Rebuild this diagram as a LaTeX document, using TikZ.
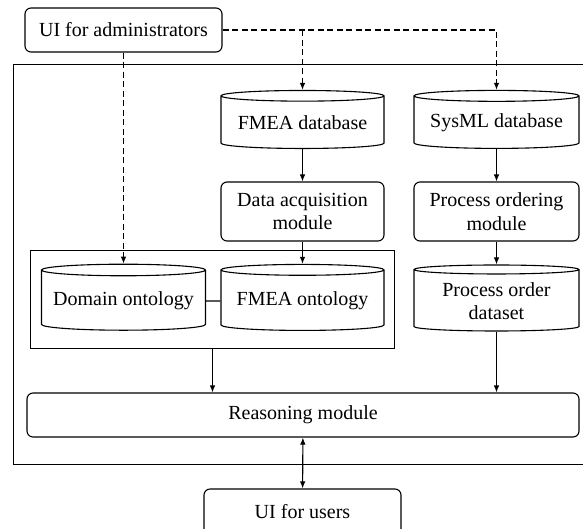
\documentclass[tikz,border=0pt]{standalone}
\usepackage{fontspec}
\setmainfont{Liberation Serif}
\usetikzlibrary{shapes.geometric,arrows.meta}

\begin{document}
\begin{tikzpicture}[x=1pt, y=-1pt, line width=1.1pt,
box/.style = {draw, rounded corners=6pt, align=center, inner sep=2pt},
db/.style = {draw, cylinder, shape border rotate=90, aspect=0.08, align=center, inner sep=2pt},
arr/.style = {-{Latex[length=7pt,width=5.5pt]}},
adm/.style = {arr, dash pattern=on 6pt off 3.5pt},
font = \fontsize{20}{23.5}\selectfont
]
\clip (0,0) rectangle (583,528);
\node[draw, minimum width=600, minimum height=400, anchor=north west] (sys) at (12.5,63.5) {};
\node[box, minimum width=197, minimum height=44] (admin) at (123.5,30) {UI for administrators};
\node[db, minimum width=163, minimum height=58] (fmeadb) at (302.5,123) {FMEA database};
\node[db, minimum width=165, minimum height=58] (sysmldb) at (496.5,123) {SysML database};
\node[box, minimum width=163, minimum height=59] (acq) at (302.5,211.5) {Data acquisition\\module};
\node[box, minimum width=165, minimum height=59] (order) at (496.5,211.5) {Process ordering\\module};
\node[draw, minimum width=364, minimum height=98] (onto) at (212.5,299.5) {};
\node[db, minimum width=164, minimum height=66] (domain) at (123.5,301) {Domain ontology};
\node[db, minimum width=163, minimum height=66] (fmeaont) at (302.5,301) {FMEA ontology};
\node[db, minimum width=165, minimum height=66] (dataset) at (496.5,301) {Process order\\dataset};
\node[box, minimum width=552, minimum height=44] (reason) at (303,415) {Reasoning module};
\node[box, minimum width=197, minimum height=46] (users) at (302.5,512) {UI for users};
\draw[adm] (admin.east) -| (sysmldb.north);
\draw[adm] (fmeadb.north |- admin.east) -- (fmeadb.north);
\draw[adm] (domain.north |- admin.south) -- (domain.north);
\foreach \i/\j in {fmeadb/acq, acq/fmeaont, sysmldb/order, order/dataset}{\draw[arr] (\i) -- (\j);}
\draw[arr] (onto.south) -- (onto.south |- reason.north);
\draw[arr] (dataset.south) -- (dataset.south |- reason.north);
\draw (domain) -- (fmeaont);
\draw[{Latex[length=7pt,width=5.5pt]}-{Latex[length=7pt,width=5.5pt]}] (reason) -- (users);
\end{tikzpicture}
\end{document}
